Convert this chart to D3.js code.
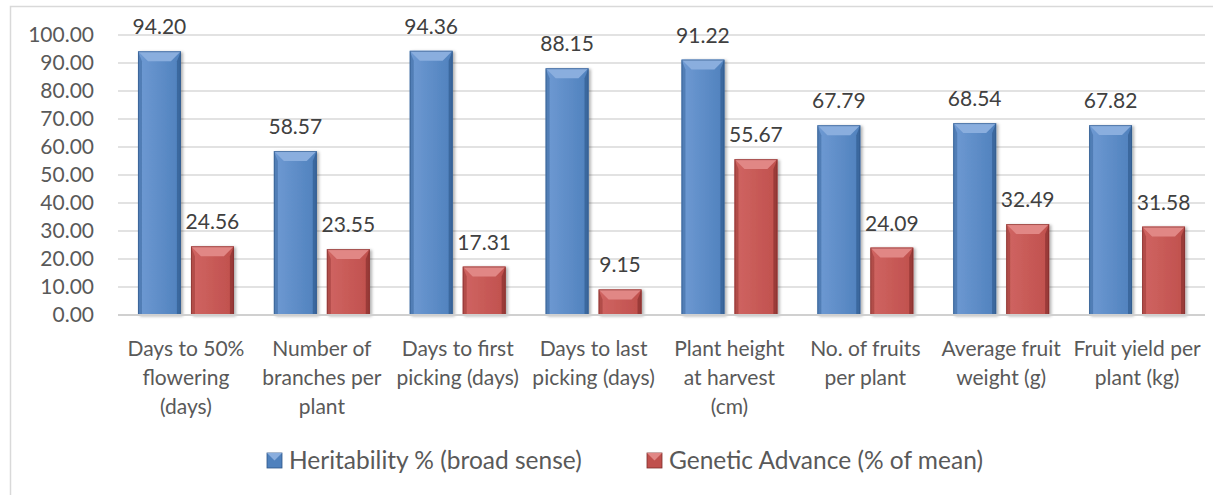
<!DOCTYPE html>
<html>
<head>
<meta charset="utf-8">
<style>
  body { margin: 0; background: white; }
  svg { font-family: 'Lato', 'Open Sans', sans-serif; }
  .tick-label, .cat-label, .legend-label { fill: #595959; }
  .value-label { fill: #404040; }
</style>
</head>
<body>
<script src="https://d3js.org/d3.v7.min.js"></script>
<div id="chart"></div>
<script>

// categories, split into the lines that show under the axis
var categories = [
  ["Days to 50%", "flowering", "(days)"],
  ["Number of", "branches per", "plant"],
  ["Days to first", "picking (days)"],
  ["Days to last", "picking (days)"],
  ["Plant height", "at harvest", "(cm)"],
  ["No. of fruits", "per plant"],
  ["Average fruit", "weight (g)"],
  ["Fruit yield per", "plant (kg)"]
];
var seriesNames = ["Heritability % (broad sense)", "Genetic Advance (% of mean)"];
var heritability = [94.20, 58.57, 94.36, 88.15, 91.22, 67.79, 68.54, 67.82];
var geneticAdvance = [24.56, 23.55, 17.31, 9.15, 55.67, 24.09, 32.49, 31.58];
var yTicks = [0, 10, 20, 30, 40, 50, 60, 70, 80, 90, 100];

var width = 1213, height = 495;
var plot = {left: 118, right: 1205, top: 35, bottom: 315};

var colors = [
  {main: "#4f81bd", light: "#6f9ad3", top: "#8aaede", side: "#3b679e", edge: "#2f5687"},
  {main: "#c0504d", light: "#d06562", top: "#e18785", side: "#9a3b39", edge: "#7d2d2b"}
];

var svg = d3.select("#chart").append("svg")
  .attr("width", width)
  .attr("height", height);

var defs = svg.append("defs");
colors.forEach(function(c, i) {
  var g = defs.append("linearGradient").attr("id", "grad" + i)
    .attr("x1", "0%").attr("x2", "100%").attr("y1", "0%").attr("y2", "0%");
  g.append("stop").attr("offset", "0%").attr("stop-color", c.light);
  g.append("stop").attr("offset", "100%").attr("stop-color", c.main);
});
var shadow = defs.append("filter").attr("id", "shadow")
  .attr("x", "-20%").attr("y", "-20%").attr("width", "150%").attr("height", "150%");
shadow.append("feDropShadow").attr("dx", 2).attr("dy", 1).attr("stdDeviation", 1.5)
  .attr("flood-color", "#000").attr("flood-opacity", 0.3);

// chart border
svg.append("rect")
  .attr("x", 10.5).attr("y", 6.5)
  .attr("width", 1240).attr("height", 520)
  .attr("fill", "white")
  .attr("stroke", "#d9d9d9")
  .attr("stroke-width", 1.5);

var y = d3.scaleLinear().domain([0, 100]).range([plot.bottom, plot.top]);

var x = d3.scaleBand()
  .domain(d3.range(categories.length))
  .range([plot.left, plot.right])
  .paddingInner(0.294)
  .paddingOuter(0.147);

var xs = d3.scaleBand()
  .domain([0, 1])
  .range([0, x.bandwidth()])
  .paddingInner(0.19);

// gridlines
svg.append("g").selectAll("line")
  .data(yTicks.slice(1))
  .enter().append("line")
    .attr("x1", plot.left).attr("x2", plot.right)
    .attr("y1", function(d) { return y(d); })
    .attr("y2", function(d) { return y(d); })
    .attr("stroke", "#d9d9d9")
    .attr("stroke-width", 1.5);

// y axis labels
var yAxis = d3.axisLeft(y).tickValues(yTicks).tickSize(0).tickPadding(0)
  .tickFormat(function(d) { return d3.format(".2f")(d); });
var yg = svg.append("g").attr("transform", "translate(94,0)").call(yAxis);
yg.select(".domain").remove();
yg.selectAll("text")
  .attr("class", "tick-label")
  .attr("fill", null)
  .style("font-size", "21px")
  .style("font-family", "Lato");

// bars
var data = [];
categories.forEach(function(c, i) {
  data.push({cat: i, s: 0, v: heritability[i]});
  data.push({cat: i, s: 1, v: geneticAdvance[i]});
});

var bars = svg.append("g").selectAll("g.bar")
  .data(data)
  .enter().append("g")
    .attr("class", "bar")
    .attr("filter", "url(#shadow)");

bars.each(function(d) {
  var g = d3.select(this);
  var c = colors[d.s];
  var x0 = x(d.cat) + xs(d.s), w = xs.bandwidth();
  var y0 = y(d.v), h = y(0) - y(d.v);
  var b = Math.min(10, h / 2), sb = 4;
  g.append("rect").attr("x", x0).attr("y", y0).attr("width", w).attr("height", h)
    .attr("fill", "url(#grad" + d.s + ")");
  // left bevel
  g.append("polygon")
    .attr("points", [[x0, y0], [x0 + sb, y0 + b], [x0 + sb, y0 + h], [x0, y0 + h]].join(" "))
    .attr("fill", c.side).attr("opacity", 0.55);
  // right bevel
  g.append("polygon")
    .attr("points", [[x0 + w, y0], [x0 + w - sb, y0 + b], [x0 + w - sb, y0 + h], [x0 + w, y0 + h]].join(" "))
    .attr("fill", c.side);
  // top bevel
  g.append("polygon")
    .attr("points", [[x0, y0], [x0 + w, y0], [x0 + w - b, y0 + b], [x0 + b, y0 + b]].join(" "))
    .attr("fill", c.top);
  g.append("rect").attr("x", x0 + 0.5).attr("y", y0 + 0.5).attr("width", w - 1).attr("height", h - 0.5)
    .attr("fill", "none").attr("stroke", c.edge).attr("stroke-width", 1).attr("opacity", 0.6);
});

// x axis line
svg.append("line")
  .attr("x1", plot.left).attr("x2", plot.right)
  .attr("y1", y(0)).attr("y2", y(0))
  .attr("stroke", "#d0d0d0")
  .attr("stroke-width", 2);

// value labels
svg.append("g").selectAll("text")
  .data(data)
  .enter().append("text")
    .attr("class", "value-label")
    .attr("x", function(d) { return x(d.cat) + xs(d.s) + xs.bandwidth() / 2; })
    .attr("y", function(d) { return y(d.v) - 17; })
    .attr("text-anchor", "middle")
    .style("font-size", "21px")
    .text(function(d) { return d3.format(".2f")(d.v); });

// category labels
var cat = svg.append("g").selectAll("text")
  .data(categories)
  .enter().append("text")
    .attr("class", "cat-label")
    .attr("text-anchor", "middle")
    .attr("x", function(d, i) { return x(i) + x.bandwidth() / 2; })
    .attr("y", 356)
    .style("font-size", "21px");
cat.selectAll("tspan")
  .data(function(d) { return d; })
  .enter().append("tspan")
    .attr("x", function() { return d3.select(this.parentNode).attr("x"); })
    .attr("dy", function(d, i) { return i === 0 ? 0 : 29; })
    .text(function(d) { return d; });

// legend
var legendX = [267, 647];
var legend = svg.append("g").selectAll("g")
  .data(seriesNames)
  .enter().append("g")
    .attr("transform", function(d, i) { return "translate(" + legendX[i] + ",453)"; });
legend.append("rect")
  .attr("width", 15).attr("height", 15)
  .attr("fill", function(d, i) { return colors[i].main; })
  .attr("stroke", function(d, i) { return colors[i].edge; })
  .attr("stroke-width", 0.8);
legend.append("polygon")
  .attr("points", "0,0 15,0 7.5,7.5")
  .attr("fill", function(d, i) { return colors[i].top; });
legend.append("text")
  .attr("class", "legend-label")
  .attr("x", 22).attr("y", 15.5)
  .style("font-size", "24.5px")
  .text(function(d) { return d; });

</script>
</body>
</html>
